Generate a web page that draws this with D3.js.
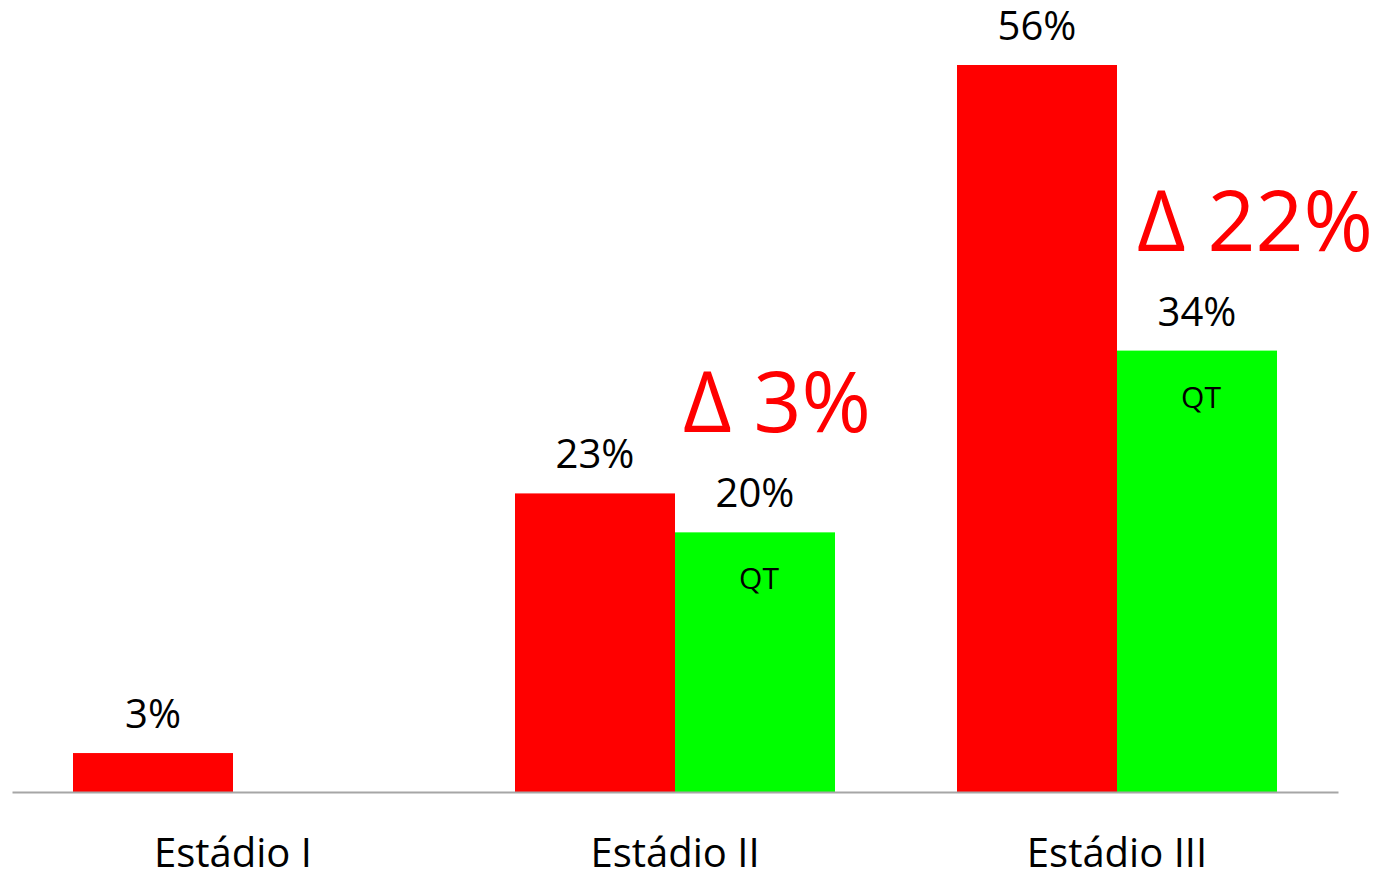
<!DOCTYPE html>
<html>
<head>
<meta charset="utf-8">
<script src="https://cdn.jsdelivr.net/npm/d3@7"></script>
<style>
  html, body { margin: 0; padding: 0; background: #ffffff; }
  svg { display: block; font-family: "Open Sans", "Noto Sans", sans-serif; }
</style>
</head>
<body>
<svg id="chart" width="1383" height="872"></svg>
<script>
// Estadios and the percentage shown for each series
const categories = ["Estádio I", "Estádio II", "Estádio III"];
const seriesKeys = ["base", "QT"];
const baseValues = [3, 23, 56];
const qtValues = [null, 20, 34];
const qtLabel = "QT";

const width = 1383, height = 872;
const margin = { left: 12, right: 45, top: 0, baseline: 792 };

const svg = d3.select("#chart");

const x = d3.scaleBand()
  .domain(categories)
  .range([margin.left, width - margin.right])
  .paddingInner(0)
  .paddingOuter(0);

const xSub = d3.scaleBand()
  .domain(seriesKeys)
  .range([0, 320]);

const groupOffset = (x.bandwidth() - 320) / 2;

const y = d3.scaleLinear()
  .domain([0, 56])
  .range([margin.baseline, 65]);

const colors = { base: "#ff0000", QT: "#00ff00" };

const rows = categories.map((c, i) => ({
  category: c,
  values: [
    { key: "base", value: baseValues[i] },
    { key: "QT", value: qtValues[i] }
  ].filter(d => d.value != null)
}));

const groups = svg.append("g")
  .selectAll("g")
  .data(rows)
  .join("g")
  .attr("transform", d => `translate(${x(d.category) + groupOffset},0)`);

groups.selectAll("rect")
  .data(d => d.values)
  .join("rect")
  .attr("x", d => xSub(d.key))
  .attr("y", d => y(d.value))
  .attr("width", xSub.bandwidth())
  .attr("height", d => y(0) - y(d.value))
  .attr("fill", d => colors[d.key]);

// value labels above bars
groups.selectAll("text.value")
  .data(d => d.values)
  .join("text")
  .attr("class", "value")
  .attr("x", d => xSub(d.key) + xSub.bandwidth() / 2)
  .attr("y", d => y(d.value) - 25)
  .attr("text-anchor", "middle")
  .attr("font-size", 40)
  .attr("fill", "#000")
  .text(d => d.value + "%");

// series name inside the QT bars
groups.selectAll("text.inner")
  .data(d => d.values.filter(v => v.key === "QT"))
  .join("text")
  .attr("class", "inner")
  .attr("x", d => xSub(d.key) + xSub.bandwidth() / 2 + 4)
  .attr("y", d => y(d.value) + 57)
  .attr("text-anchor", "middle")
  .attr("font-size", 30)
  .attr("fill", "#000")
  .text(qtLabel);

// difference annotations
const deltaOffsets = { "Estádio II": 8, "Estádio III": 20 };
rows.filter(r => r.values.length === 2).forEach(r => {
  const base = r.values[0].value, qt = r.values[1].value;
  svg.append("text")
    .attr("x", x(r.category) + groupOffset + xSub("QT") + deltaOffsets[r.category])
    .attr("y", y(qt) - 100)
    .attr("font-size", 84)
    .attr("fill", "#ff0000")
    .text("Δ " + (base - qt) + "%");
});

// baseline axis
const axis = d3.axisBottom(x).tickSize(0).tickPadding(0);
const axisG = svg.append("g")
  .attr("transform", `translate(0,${margin.baseline})`)
  .call(axis);
axisG.select(".domain")
  .attr("stroke", "#a6a6a6")
  .attr("stroke-width", 2);
axisG.selectAll(".tick text")
  .attr("y", 75)
  .attr("dy", 0)
  .attr("font-size", 40)
  .attr("font-family", "\"Open Sans\", \"Noto Sans\", sans-serif")
  .attr("fill", "#000");
</script>
</body>
</html>
